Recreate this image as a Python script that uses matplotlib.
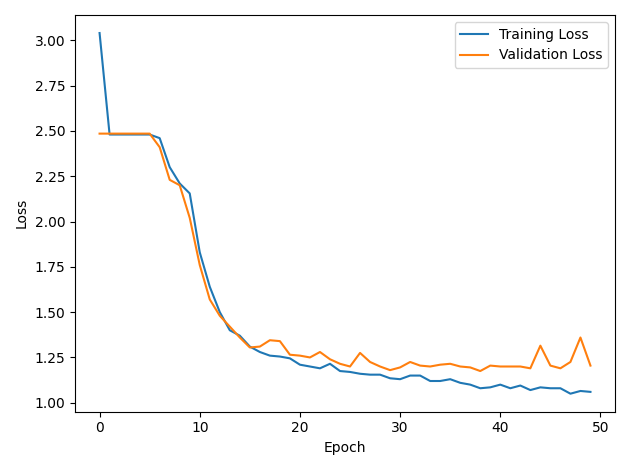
import matplotlib
matplotlib.use('Agg')
import matplotlib.pyplot as plt

# Значения потерь по эпохам
train_loss = [3.04, 2.48, 2.48, 2.48, 2.48, 2.48, 2.46, 2.30, 2.21, 2.155,
              1.83, 1.64, 1.50, 1.40, 1.37, 1.31, 1.28, 1.26, 1.255, 1.245,
              1.21, 1.20, 1.19, 1.215, 1.175, 1.17, 1.16, 1.155, 1.155, 1.135,
              1.13, 1.15, 1.15, 1.12, 1.12, 1.13, 1.11, 1.10, 1.08, 1.085,
              1.10, 1.08, 1.095, 1.07, 1.085, 1.08, 1.08, 1.05, 1.065, 1.06]
val_loss = [2.485, 2.485, 2.485, 2.485, 2.485, 2.485, 2.41, 2.23, 2.20, 2.02,
            1.76, 1.57, 1.48, 1.42, 1.36, 1.305, 1.31, 1.345, 1.34, 1.265,
            1.26, 1.25, 1.28, 1.24, 1.215, 1.20, 1.275, 1.225, 1.20, 1.18,
            1.195, 1.225, 1.205, 1.20, 1.21, 1.215, 1.20, 1.195, 1.175, 1.205,
            1.20, 1.20, 1.20, 1.19, 1.315, 1.205, 1.19, 1.225, 1.36, 1.205]

plt.figure(figsize=(6.3, 4.7), dpi=100)
plt.plot(train_loss, label='Training Loss')
plt.plot(val_loss, label='Validation Loss')
plt.xlabel('Epoch')
plt.ylabel('Loss')
plt.legend()
plt.tight_layout()
plt.savefig('out.png')
